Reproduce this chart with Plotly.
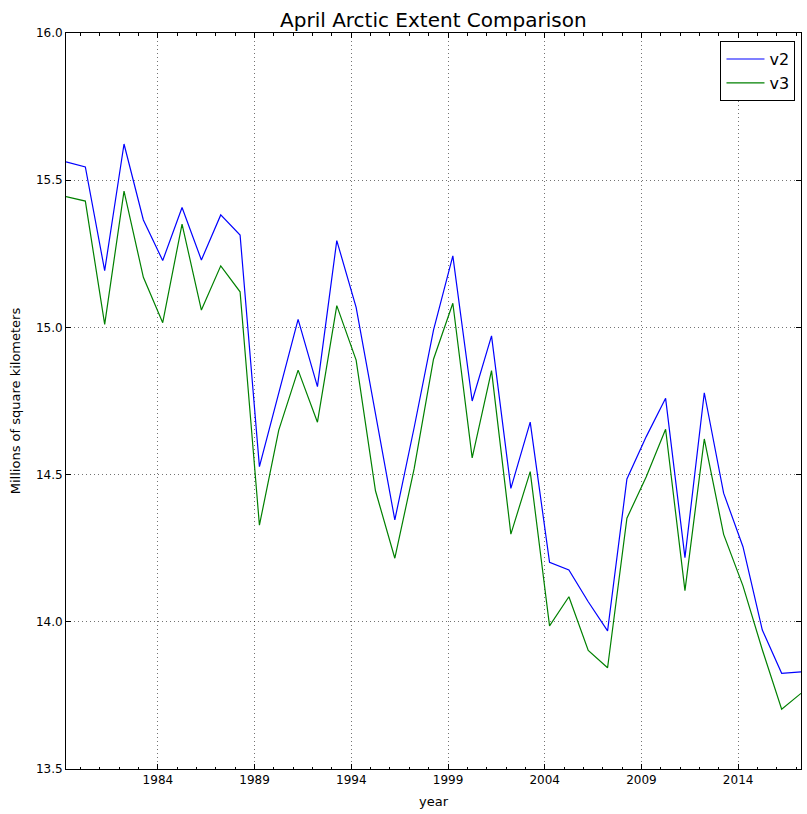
import plotly.graph_objects as go

years = list(range(1979, 2018))
x_vals = [y + 0.25 for y in years]

v2 = [15.562, 15.545, 15.193, 15.623, 15.365, 15.227, 15.407, 15.229, 15.382, 15.314,
      14.527, 14.78, 15.027, 14.799, 15.295, 15.068, 14.707, 14.346, 14.66, 14.991,
      15.243, 14.75, 14.971, 14.453, 14.678, 14.202, 14.176, 14.068, 13.969, 14.485,
      14.629, 14.759, 14.218, 14.778, 14.437, 14.255, 13.972, 13.825, 13.830]

v3 = [15.444, 15.429, 15.010, 15.463, 15.170, 15.016, 15.351, 15.059, 15.209, 15.121,
      14.328, 14.651, 14.855, 14.678, 15.074, 14.889, 14.445, 14.216, 14.52, 14.892,
      15.082, 14.557, 14.853, 14.298, 14.510, 13.986, 14.085, 13.903, 13.844, 14.352,
      14.493, 14.654, 14.106, 14.621, 14.297, 14.122, 13.905, 13.703, 13.757]

y_ticks = [13.5, 14.0, 14.5, 15.0, 15.5, 16.0]
y_tick_labels = ["13.5", "14.0", "14.5", "15.0", "15.5", "16.0"]
x_ticks = [1984, 1989, 1994, 1999, 2004, 2009, 2014]

font = "DejaVu Sans"

fig = go.Figure()
fig.add_trace(go.Scatter(x=x_vals, y=v2, mode="lines", name="v2", legendgroup="a",
                         line=dict(color="#0000ff", width=1.2)))
fig.add_trace(go.Scatter(x=x_vals, y=v3, mode="lines", name="v3", legendgroup="b",
                         line=dict(color="#008000", width=1.2)))

axis_common = dict(
    showline=True, linecolor="black", linewidth=1, mirror="ticks",
    ticks="inside", ticklen=5, tickcolor="black", tickwidth=1,
    showgrid=True, gridcolor="rgba(0,0,0,0.55)", gridwidth=0.7, griddash="1px,3px",
    zeroline=False, tickfont=dict(family=font, size=12, color="black"),
    automargin=False,
)

fig.update_layout(
    width=807, height=814,
    margin=dict(l=66, r=6, t=33, b=45),
    paper_bgcolor="white", plot_bgcolor="white",
    title=dict(text="April Arctic Extent Comparison", x=0.537, xanchor="center",
               y=0.975, yanchor="middle",
               font=dict(family=font, size=20, color="black")),
    font=dict(family=font, color="black"),
    legend=dict(x=0.9925, y=0.989, xanchor="right", yanchor="top",
                bordercolor="black", borderwidth=1, bgcolor="white",
                font=dict(family=font, size=16, color="black"),
                traceorder="grouped", tracegroupgap=0,
                itemwidth=38),
    showlegend=True,
)

fig.update_xaxes(
    range=[1979.25, 2017.25], tickvals=x_ticks,
    ticktext=[str(t) for t in x_ticks],
    title=dict(text="year", font=dict(family=font, size=13, color="black"), standoff=10),
    minor=dict(dtick=1, tick0=1979, ticks="inside", ticklen=2.5, tickcolor="black",
               showgrid=False),
    **axis_common,
)
fig.update_yaxes(
    range=[13.5, 16.0], tickvals=y_ticks, ticktext=y_tick_labels,
    title=dict(text="Millions of square kilometers",
               font=dict(family=font, size=13, color="black"), standoff=12),
    **axis_common,
)

fig.write_html(
    "out.html",
    config={"displayModeBar": False},
    post_script="document.body.style.margin='0';document.body.style.overflow='hidden';",
)
